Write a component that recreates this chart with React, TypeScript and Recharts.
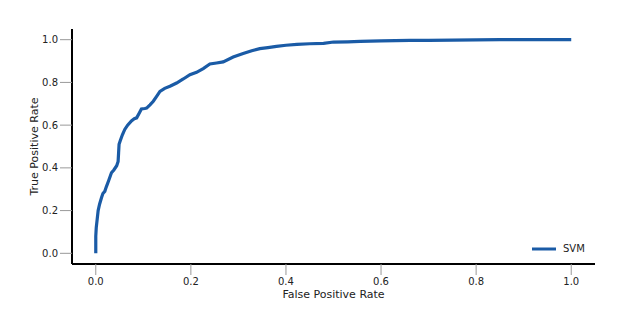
import { LineChart, Line, XAxis, YAxis, Legend } from "recharts";

// ROC curve points
const fpr = [
  0, 0, 0.001, 0.003, 0.005, 0.008, 0.012, 0.015, 0.019, 0.022,
  0.027, 0.033, 0.038, 0.044, 0.047, 0.048, 0.049, 0.052, 0.056, 0.061,
  0.067, 0.075, 0.081, 0.086, 0.091, 0.096, 0.103, 0.107, 0.114, 0.121,
  0.128, 0.135, 0.145, 0.156, 0.17, 0.184, 0.198, 0.212, 0.226, 0.24,
  0.254, 0.268, 0.289, 0.31, 0.328, 0.345, 0.362, 0.38, 0.4, 0.423,
  0.45, 0.479, 0.5, 0.53, 0.556, 0.6, 0.661, 0.7, 0.75, 0.8,
  0.85, 0.9, 0.95, 1.0,
];
const tpr = [
  0, 0.08, 0.12, 0.16, 0.2, 0.23, 0.26, 0.28, 0.29, 0.31,
  0.34, 0.377, 0.39, 0.41, 0.43, 0.47, 0.51, 0.53, 0.555, 0.58,
  0.6, 0.62, 0.63, 0.634, 0.655, 0.676, 0.678, 0.68, 0.695, 0.712,
  0.735, 0.758, 0.772, 0.782, 0.797, 0.816, 0.836, 0.847, 0.865, 0.886,
  0.891, 0.896, 0.919, 0.935, 0.948, 0.958, 0.963, 0.969, 0.974, 0.978,
  0.981, 0.983, 0.989, 0.99, 0.992, 0.994, 0.997, 0.997, 0.998, 0.999,
  1, 1, 1, 1,
];
const ticks = [0, 0.2, 0.4, 0.6, 0.8, 1.0];
const seriesName = "SVM";

const data = fpr.map((x, i) => ({ fpr: x, tpr: tpr[i] }));

const font = "'DejaVu Sans', sans-serif";
const lineColor = "#1a5ba6";

function LegendBox() {
  return (
    <div style={{ display: "flex", alignItems: "center", fontFamily: font, fontSize: 10, color: "#222" }}>
      <svg width={24} height={6} style={{ marginRight: 7 }}>
        <line x1={0} y1={3} x2={24} y2={3} stroke={lineColor} strokeWidth={3} />
      </svg>
      <span>{seriesName}</span>
    </div>
  );
}

export default function App() {
  return (
    <div style={{ position: "absolute", left: 0, top: 0, background: "#fff" }}>
      <LineChart
        width={623}
        height={330}
        data={data}
        margin={{ top: 29, right: 28, bottom: 16, left: 0 }}
      >
        <XAxis
          type="number"
          dataKey="fpr"
          domain={[-0.05, 1.05]}
          ticks={ticks}
          tickFormatter={(v: number) => v.toFixed(1)}
          height={50}
          tickSize={11}
          tickMargin={3}
          axisLine={{ stroke: "#000", strokeWidth: 2 }}
          tickLine={{ stroke: "#999", strokeWidth: 1 }}
          tick={{ fill: "#222", fontSize: 10, fontFamily: font }}
          label={{
            value: "False Positive Rate",
            position: "insideBottom",
            offset: 16,
            style: { fill: "#222", fontSize: 11, fontFamily: font },
          }}
        />
        <YAxis
          type="number"
          domain={[-0.05, 1.05]}
          ticks={ticks}
          tickFormatter={(v: number) => v.toFixed(1)}
          width={72}
          tickSize={12}
          tickMargin={2}
          axisLine={{ stroke: "#000", strokeWidth: 2 }}
          tickLine={{ stroke: "#999", strokeWidth: 1 }}
          tick={{ fill: "#222", fontSize: 10, fontFamily: font }}
          label={{
            value: "True Positive Rate",
            angle: -90,
            position: "insideLeft",
            offset: 34,
            style: { fill: "#222", fontSize: 11, fontFamily: font, textAnchor: "middle" },
          }}
        />
        <Legend
          layout="horizontal"
          align="center"
          verticalAlign="middle"
          wrapperStyle={{ left: 532, top: 243, width: "auto" }}
          content={() => <LegendBox />}
        />
        <Line
          type="linear"
          dataKey="tpr"
          name={seriesName}
          stroke={lineColor}
          strokeWidth={3.2}
          dot={false}
          isAnimationActive={false}
        />
      </LineChart>
    </div>
  );
}
